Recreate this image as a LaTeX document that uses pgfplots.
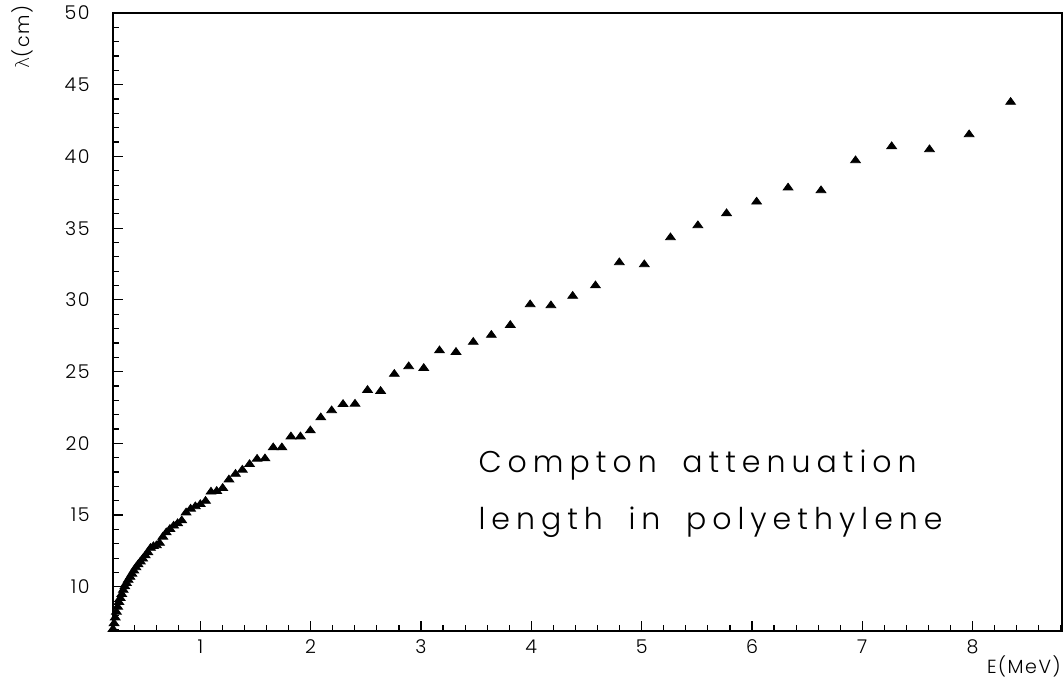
\documentclass[border=0pt]{standalone}
\usepackage{pgfplots}
\pgfplotsset{compat=1.18}
\usepackage{pgfplotstable}
\usepackage{fontspec}
\usetikzlibrary{calc}
\setmainfont{Poppins}[UprightFont=* Light]
\newfontfamily\tickfont{Poppins}[UprightFont=* Light, LetterSpace=8]
\newfontfamily\notefont{Poppins}[UprightFont=* Light, LetterSpace=20, WordSpace=1.8]
\newfontfamily\greekfont{DejaVu Sans}[UprightFont=* ExtraLight]

\pgfplotstableread{
x y
0.2085 7.05
0.2183 7.45
0.2286 7.85
0.2394 8.25
0.2507 8.60
0.2625 8.92
0.2749 9.20
0.2879 9.48
0.3015 9.77
0.3157 10.02
0.3306 10.25
0.3462 10.47
0.3626 10.68
0.3797 10.90
0.3976 11.12
0.4163 11.35
0.4360 11.55
0.4566 11.75
0.4781 11.95
0.5007 12.18
0.5243 12.40
0.5491 12.70
0.5750 12.82
0.6021 12.88
0.6305 13.05
0.6603 13.48
0.6914 13.78
0.7241 14.02
0.7582 14.25
0.7940 14.42
0.8315 14.62
0.8708 15.17
0.9119 15.43
0.9549 15.60
1.0000 15.75
1.0472 15.98
1.0966 16.62
1.1484 16.67
1.2026 16.88
1.2593 17.47
1.3188 17.86
1.3810 18.15
1.4462 18.54
1.5145 18.91
1.5860 18.94
1.6608 19.71
1.7392 19.71
1.8213 20.47
1.9073 20.47
1.9973 20.89
2.0916 21.80
2.1903 22.29
2.2937 22.73
2.4020 22.75
2.5154 23.71
2.6341 23.64
2.7584 24.83
2.8886 25.36
3.0250 25.24
3.1677 26.47
3.3173 26.36
3.4739 27.06
3.6378 27.55
3.8095 28.24
3.9894 29.68
4.1777 29.61
4.3749 30.27
4.5814 31.00
4.7976 32.61
5.0241 32.47
5.2612 34.35
5.5096 35.19
5.7696 36.03
6.0420 36.84
6.3272 37.82
6.6258 37.63
6.9386 39.72
7.2661 40.70
7.6090 40.49
7.9682 41.53
8.3443 43.79
}\datatable

\begin{document}
\begin{tikzpicture}
\begin{axis}[
  scale only axis,
  width=474.5pt, height=309pt,
  xmin=0.2085, xmax=8.81, ymin=6.92, ymax=50,
  axis line style={line width=0.7pt},
  xtick={1,2,...,8},
  minor xtick={0.4,0.6,...,8.8},
  ytick={10,15,...,50},
  minor ytick={7,8,...,49},
  tick align=inside,
  xtick pos=bottom, ytick pos=left,
  major tick length=5pt, minor tick length=3pt,
  every tick/.style={black, line width=0.6pt},
  /pgf/number format/assume math mode=true,
  every tick label/.append style={font=\tickfont\fontsize{9.5}{11}\selectfont, inner sep=0pt},
  xticklabel style={anchor=center, yshift=-8pt},
  yticklabel style={anchor=east, xshift=-11.5pt},
]
\addplot[only marks, mark=triangle*, mark size=2.8pt, black, mark options={yscale=0.8}] table[x=x, y=y] {\datatable};
\node[anchor=west, font=\notefont\fontsize{15}{17}\selectfont, inner sep=0pt] at (axis cs:3.518,18.5) {Compton attenuation};
\node[anchor=west, font=\notefont\fontsize{15}{17}\selectfont, inner sep=0pt] at (axis cs:3.518,14.5) {length in polyethylene};
\end{axis}
\node[rotate=90, inner sep=0pt, font=\tickfont\fontsize{9.5}{11}\selectfont] at ($(current axis.north west)+(-45.5pt,-12pt)$) {{\greekfont λ}(cm)};
\node[anchor=east, inner sep=0pt, font=\tickfont\fontsize{9.5}{11}\selectfont] at ($(current axis.south east)+(-0.5pt,-17.5pt)$) {E(MeV)};
\pgfresetboundingbox
\path[use as bounding box] ($(current axis.south west)+(-56.5pt,-24pt)$) rectangle ($(current axis.north east)+(0.5pt,6.5pt)$);
\end{tikzpicture}
\end{document}
